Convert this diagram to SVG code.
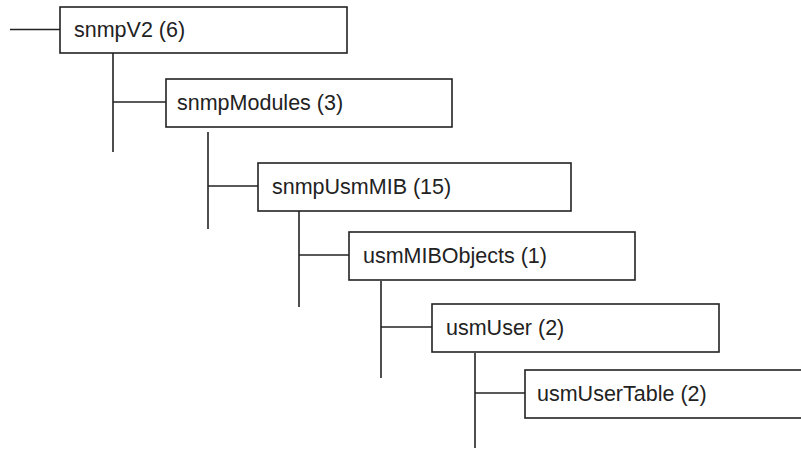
<svg xmlns="http://www.w3.org/2000/svg" width="801" height="449" viewBox="0 0 801 449">
<style>
rect.box{fill:#fff;stroke:#222;stroke-width:1.6}
.c line{stroke:#222;stroke-width:1.6}
text{font-family:"Liberation Sans",Arial,sans-serif;font-size:21.5px;fill:#222}
</style>
<rect width="801" height="449" fill="#fff"/>
<g class="c" id="connectors">
<line x1="10" y1="29.5" x2="60" y2="29.5"/>
<line x1="113" y1="53" x2="113" y2="152"/>
<line x1="113" y1="102" x2="166" y2="102"/>
<line x1="208" y1="132" x2="208" y2="229"/>
<line x1="208" y1="186" x2="258" y2="186"/>
<line x1="299" y1="211" x2="299" y2="307"/>
<line x1="299" y1="255" x2="349" y2="255"/>
<line x1="381" y1="281" x2="381" y2="378"/>
<line x1="381" y1="327" x2="432" y2="327"/>
<line x1="475" y1="353" x2="475" y2="448"/>
<line x1="475" y1="393" x2="525" y2="393"/>
</g>
<g id="n1"><rect class="box" x="60" y="7" width="287" height="46"/><text x="74" y="37">snmpV2 (6)</text></g>
<g id="n2"><rect class="box" x="166" y="79" width="286" height="48"/><text x="177" y="110">snmpModules (3)</text></g>
<g id="n3"><rect class="box" x="258" y="163" width="313" height="48"/><text x="272" y="194">snmpUsmMIB (15)</text></g>
<g id="n4"><rect class="box" x="349" y="232" width="286" height="48"/><text x="363" y="263">usmMIBObjects (1)</text></g>
<g id="n5"><rect class="box" x="432" y="304" width="287" height="48"/><text x="446" y="335">usmUser (2)</text></g>
<g id="n6"><rect class="box" x="525" y="370" width="290" height="48"/><text x="537" y="401">usmUserTable (2)</text></g>
</svg>
